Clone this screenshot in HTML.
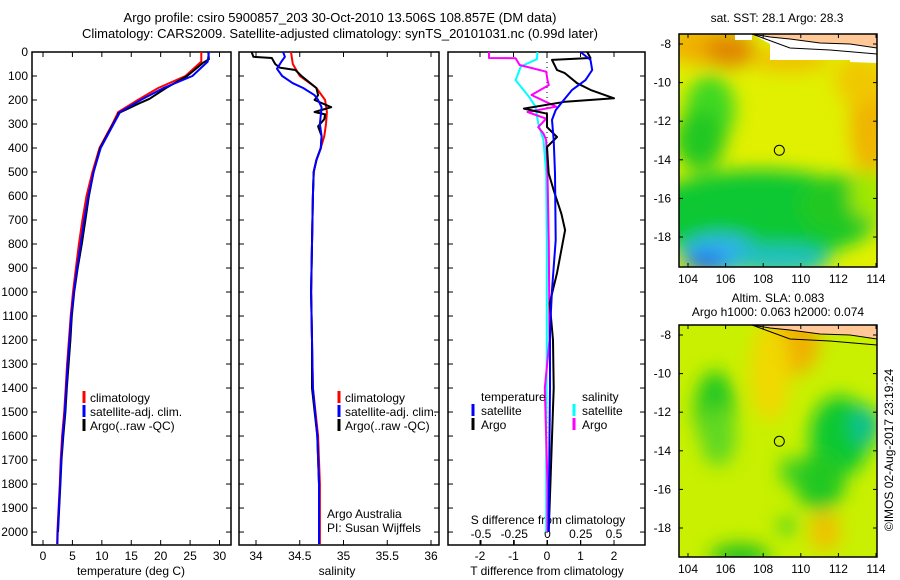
<!DOCTYPE html>
<html><head><meta charset="utf-8"><style>
html,body{margin:0;padding:0;background:#fff;}
svg{display:block;font-family:"Liberation Sans",sans-serif;}
</style></head><body>
<svg id="fig" width="900" height="580" viewBox="0 0 900 580">
<text x="340" y="22" font-size="13" text-anchor="middle">Argo profile: csiro 5900857_203 30-Oct-2010 13.506S 108.857E (DM data)</text>
<text x="340" y="38" font-size="13" text-anchor="middle">Climatology: CARS2009. Satellite-adjusted climatology: synTS_20101031.nc (0.99d later)</text>
<g id="panels"></g>
<g id="maps"></g>
<text transform="translate(893,450) rotate(-90)" font-size="12" text-anchor="middle">©IMOS 02-Aug-2017 23:19:24</text>
</svg>
<script>
// ---------- data ----------
const depthTicks = [0,100,200,300,400,500,600,700,800,900,1000,1100,1200,1300,1400,1500,1600,1700,1800,1900,2000];
const tempTicks = [0,5,10,15,20,25,30];
const salTicks = [34,34.5,35,35.5,36];
const tdiffTicks = [-2,-1,0,1,2];
const sdiffTicks = [-0.5,-0.25,0,0.25,0.5];
const sdiffTickLabels = ["-0.5","-0.25","0","0.25","0.5"];

const tClimDepth = [0,40,100,150,200,250,300,400,500,600,700,800,900,1000,1100,1200,1300,1400,1500,1600,1700,1800,1900,2000,2050];
const tClimVal   = [26.9,26.9,24.2,19.6,16.1,12.8,11.8,9.6,8.4,7.4,6.7,6.1,5.6,5.1,4.7,4.4,4.1,3.85,3.6,3.25,3.0,2.85,2.65,2.45,2.4];
const tSatDepth  = [0,40,100,150,200,250,300,400,500,600,700,800,900,1000,1100,1200,1300,1400,1500,1600,1700,1800,1900,2000,2050];
const tSatVal    = [28.2,28.0,25.4,20.5,16.6,13.1,12.0,9.8,8.6,7.7,7.0,6.4,5.8,5.25,4.8,4.5,4.2,3.95,3.7,3.35,3.1,2.9,2.7,2.5,2.45];
const tArgoDepth = [0,30,45,100,150,195,210,240,255,265,300,400,500,600,700,800,900,1000,1100,1200,1300,1400,1500,1600,1700,1800,1900,2000];
const tArgoVal   = [28.1,28.2,27.2,24.5,20.9,18.1,16.7,14.1,12.8,12.7,11.9,9.7,8.6,7.8,7.2,6.6,5.9,5.3,4.9,4.65,4.35,4.05,3.8,3.45,3.15,2.95,2.75,2.55];

const sClimDepth = [0,50,100,150,200,250,300,350,400,450,500,600,800,1000,1200,1400,1600,1800,2050];
const sClimVal   = [34.40,34.42,34.50,34.69,34.79,34.81,34.80,34.78,34.74,34.69,34.66,34.65,34.64,34.63,34.64,34.65,34.71,34.73,34.73];
const sSatDepth  = [0,20,40,70,100,130,150,180,200,230,300,350,400,450,500,600,800,1000,1200,1400,1600,1800,2050];
const sSatVal    = [34.31,34.33,34.29,34.24,34.30,34.42,34.54,34.67,34.71,34.75,34.73,34.75,34.74,34.69,34.66,34.65,34.64,34.63,34.64,34.65,34.70,34.72,34.72];
const sArgoDepth = [0,20,25,50,65,75,100,150,180,200,230,250,260,280,310,350,400,450,500,600,800,1000,1200,1400,1600,1800,2000];
const sArgoVal   = [33.95,33.97,34.18,34.22,34.27,34.45,34.52,34.69,34.71,34.67,34.86,34.67,34.79,34.78,34.71,34.75,34.74,34.69,34.66,34.65,34.64,34.63,34.64,34.64,34.70,34.72,34.72];

const dTSatDepth = [0,33,75,117,158,200,242,283,367,506,783,992,1158,1400,1700,2000];
const dTSatVal   = [1.0,1.3,1.35,1.15,0.75,0.5,0.26,0.15,0.2,0.24,0.26,0.15,0.09,0.09,0.07,0.05];
const dTArgoDepth = [0,25,33,75,88,130,158,193,207,236,257,313,354,396,506,576,674,742,921,1046,1200,1400,1800,2000];
const dTArgoVal   = [1.2,1.3,0.15,0.3,0.53,0.9,1.3,2.0,0.55,-0.69,0.0,0.0,0.3,0.0,0.05,0.2,0.43,0.54,0.3,0.08,0.18,0.2,0.1,0.05];
const dSSatDepth = [0,30,60,117,145,186,228,297,367,506,800,1200,1600,2000];
const dSSatVal   = [-0.075,-0.08,-0.2,-0.24,-0.2,-0.14,-0.09,-0.07,-0.03,-0.01,-0.005,-0.005,-0.01,-0.01];
const dSArgoDepth = [0,25,26,54,82,117,138,179,228,250,278,313,340,367,506,800,1200,1400,1800,2000];
const dSArgoVal   = [-0.44,-0.44,-0.24,-0.21,-0.01,0.0,0.01,-0.12,0.065,-0.15,-0.01,-0.07,-0.03,-0.01,0.0,0.01,0.015,-0.02,0.0,0.0];

const latTicks = [-8,-10,-12,-14,-16,-18];
const lonTicks = [104,106,108,110,112,114];
const argoLon = 108.857, argoLat = -13.506;

// ---------- helpers ----------
const NS="http://www.w3.org/2000/svg";
function mk(tag, attrs, parent){const e=document.createElementNS(NS,tag);for(const k in attrs)e.setAttribute(k,attrs[k]);if(parent)parent.appendChild(e);return e;}
const TOP=52, BOT=545, D0=0, D1=2054;
const yD = d => TOP + (d-D0)/(D1-D0)*(BOT-TOP);
const panels=document.getElementById('panels');

function linear(v0,p0,v1,p1){return v=>p0+(v-v0)/(v1-v0)*(p1-p0);}

function drawLine(g, depths, vals, xf, color, w, name){
  let d="";
  for(let i=0;i<depths.length;i++){d+=(i?"L":"M")+xf(vals[i]).toFixed(1)+","+yD(depths[i]).toFixed(1);}
  const p=mk('path',{d:d,fill:'none',stroke:color,'stroke-width':w,'stroke-linejoin':'round'},g);
  
  
}

function frame(g,x0,x1,name){
  const r=mk('rect',{x:x0,y:TOP,width:x1-x0,height:BOT-TOP,fill:'none',stroke:'#000','stroke-width':1.5},g);
  
  
  depthTicks.forEach(d=>{
    mk('line',{x1:x0,x2:x0+5,y1:yD(d),y2:yD(d),stroke:'#000'},g);
    mk('line',{x1:x1,x2:x1-5,y1:yD(d),y2:yD(d),stroke:'#000'},g);
  });
}
function xTicks(g,ticks,labels,xf,ybase,labY,top){
  ticks.forEach((t,i)=>{
    const x=xf(t);
    mk('line',{x1:x,x2:x,y1:ybase,y2:ybase-5,stroke:'#000'},g);
    if(top) mk('line',{x1:x,x2:x,y1:TOP,y2:TOP+5,stroke:'#000'},g);
    const tx=mk('text',{x:x,y:labY,'font-size':12,'text-anchor':'middle'},g);
    tx.textContent=labels[i];
    
    
  });
}
function label(g,x,y,txt,name,anchor,size){
  const t=mk('text',{x:x,y:y,'font-size':size||12,'text-anchor':anchor||'start'},g);
  t.textContent=txt;
  
  
  return t;
}
function legendMark(g,x,y,color){mk('rect',{x:x-1.5,y:y-11,width:3,height:12,fill:color},g);}

// ---------- panel 1: temperature ----------
const g1=mk('g',{},panels);
const xT=linear(0,43,30,219.5);
frame(g1,32,231,'temperature-plot-frame');
depthTicks.forEach(d=>label(g1,28,yD(d)+4,String(d),'y-tick-label','end'));
xTicks(g1,tempTicks,tempTicks.map(String),xT,BOT,560,true);
label(g1,131,575,'temperature (deg C)','x-axis-title','middle');
drawLine(g1,tClimDepth,tClimVal,xT,'#ff0000',2,'temp-climatology-line');
drawLine(g1,tArgoDepth,tArgoVal,xT,'#000000',2,'temp-argo-line');
drawLine(g1,tSatDepth,tSatVal,xT,'#0000ff',2,'temp-satellite-line');
[['climatology','#f00'],['satellite-adj. clim.','#00f'],['Argo(..raw -QC)','#000']].forEach((e,i)=>{
  legendMark(g1,84,402+i*14,e[1]);label(g1,90,402+i*14,e[0],'legend-entry');
});

// ---------- panel 2: salinity ----------
const g2=mk('g',{},panels);
const xS=linear(34,256,36,431);
frame(g2,239,439,'salinity-plot-frame');
xTicks(g2,salTicks,["34","34.5","35","35.5","36"],xS,BOT,560,true);
label(g2,337,575,'salinity','x-axis-title','middle');
drawLine(g2,sClimDepth,sClimVal,xS,'#ff0000',2,'sal-climatology-line');
drawLine(g2,sArgoDepth,sArgoVal,xS,'#000000',2,'sal-argo-line');
drawLine(g2,sSatDepth,sSatVal,xS,'#0000ff',2,'sal-satellite-line');
[['climatology','#f00'],['satellite-adj. clim.','#00f'],['Argo(..raw -QC)','#000']].forEach((e,i)=>{
  legendMark(g2,339,402+i*14,e[1]);label(g2,345,402+i*14,e[0],'legend-entry');
});
label(g2,327,518,'Argo Australia','credit-line-1');
label(g2,327,532,'PI: Susan Wijffels','credit-line-2');

// ---------- panel 3: differences ----------
const g3=mk('g',{},panels);
const xDT=linear(-2,480,2,614);
const xDS=linear(-0.5,481,0.5,614);
frame(g3,448,645,'difference-plot-frame');
tdiffTicks.forEach(t=>mk('line',{x1:xDT(t),x2:xDT(t),y1:TOP,y2:TOP+5,stroke:'#000'},g3));
xTicks(g3,tdiffTicks,tdiffTicks.map(String),xDT,BOT,560,false);
label(g3,547,575,'T difference from climatology','x-axis-title','middle');
sdiffTicks.forEach((t,i)=>{mk('line',{x1:xDS(t),x2:xDS(t),y1:BOT,y2:BOT-5,stroke:'#000'},g3);label(g3,xDS(t),538,sdiffTickLabels[i],'s-tick-label','middle');});
label(g3,548,524,'S difference from climatology','s-axis-title','middle');
mk('line',{x1:xDT(0),x2:xDT(0),y1:TOP,y2:BOT,stroke:'#000','stroke-dasharray':'1,4'},g3);
drawLine(g3,dSSatDepth,dSSatVal,xDS,'#00ffff',2,'sdiff-satellite-line');
drawLine(g3,dSArgoDepth,dSArgoVal,xDS,'#ff00ff',2,'sdiff-argo-line');
drawLine(g3,dTArgoDepth,dTArgoVal,xDT,'#000000',2,'tdiff-argo-line');
drawLine(g3,dTSatDepth,dTSatVal,xDT,'#0000ff',2,'tdiff-satellite-line');
label(g3,481,401,'temperature','legend-title-temperature');
label(g3,582,401,'salinity','legend-title-salinity');
legendMark(g3,473,415,'#00f');label(g3,481,415,'satellite','legend-entry');
legendMark(g3,473,429,'#000');label(g3,481,429,'Argo','legend-entry');
legendMark(g3,574,415,'#0ff');label(g3,582,415,'satellite','legend-entry');
legendMark(g3,574,429,'#f0f');label(g3,582,429,'Argo','legend-entry');

// ---------- maps ----------
const maps=document.getElementById('maps');
const defs=mk('defs',{},maps);
const flt=mk('filter',{id:'blur',x:'-50%',y:'-50%',width:'200%',height:'200%'},defs);
mk('feGaussianBlur',{stdDeviation:9},flt);
function map(y0,y1,base,blobs,name,titles,gap){
  const X0=679,X1=877;
  const g=mk('g',{},maps);
  const cid='clip'+y0;
  const cp=mk('clipPath',{id:cid},defs);mk('rect',{x:X0,y:y0,width:X1-X0,height:y1-y0},cp);
  const inner=mk('g',{'clip-path':'url(#'+cid+')'},g);
  mk('rect',{x:X0,y:y0,width:X1-X0,height:y1-y0,fill:base},inner);
  const bg=mk('g',{filter:'url(#blur)'},inner);
  blobs.forEach(b=>mk('ellipse',{cx:b[0],cy:b[1]-34+y0,rx:b[2],ry:b[3],fill:b[4]},bg));
  const lonX=linear(104,688,114,876);
  const latY=linear(-8,y0+10,-18,y0+203);
  if(gap){
    mk('path',{d:`M752,${y0} L877,${y0} L877,${y0+29} L850,${y0+28} L850,${y0+26} L770,${y0+26} L770,${y0+10} Z`,fill:'#fff'},inner);
    mk('rect',{x:735,y:y0,width:17,height:6,fill:'#fff'},inner);
  }
  // land + coast
  mk('path',{d:`M752,${y0} L877,${y0} L877,${y0+14} L850,${y0+10} L820,${y0+9} L790,${y0+5} L770,${y0+3} Z`,fill:'#ffc896',stroke:'#000','stroke-width':1},inner);
  mk('path',{d:`M752,${y0} L790,${y0+14} L830,${y0+16} L877,${y0+20}`,fill:'none',stroke:'#000','stroke-width':1},inner);
  mk('rect',{x:X0,y:y0,width:X1-X0,height:y1-y0,fill:'none',stroke:'#000','stroke-width':1.5},g);
  latTicks.forEach(l=>{const y=latY(l);mk('line',{x1:X0,x2:X0+4,y1:y,y2:y,stroke:'#000'},g);mk('line',{x1:X1,x2:X1-4,y1:y,y2:y,stroke:'#000'},g);label(g,671,y+4,String(l),'lat-tick-label','end');});
  lonTicks.forEach(l=>{const x=lonX(l);mk('line',{x1:x,x2:x,y1:y1,y2:y1-4,stroke:'#000'},g);mk('line',{x1:x,x2:x,y1:y0,y2:y0+4,stroke:'#000'},g);label(g,x,y1+16,String(l),'lon-tick-label','middle');});
  const c=mk('circle',{cx:lonX(argoLon),cy:latY(argoLat),r:5,fill:'none',stroke:'#000','stroke-width':1},g);
  
  titles.forEach(t=>label(g,t[0],t[1],t[2],'map-title','middle'));
}
map(34,267,'#e0f000',[
  [700,45,35,20,'#f0b000'],[730,50,25,18,'#e08800'],[790,60,40,12,'#f0c000'],
  [870,120,20,60,'#f0b400'],[860,80,25,25,'#f0c800'],
  [710,110,25,35,'#40d820'],[700,140,25,30,'#20c820'],
  [760,215,120,45,'#10c830'],[840,205,40,30,'#20c820'],[870,195,20,25,'#a0e800'],
  [720,255,40,20,'#30b0f0'],[780,260,50,15,'#20c0c0'],[705,262,20,8,'#2060e0']
],'sst-map',[[777,22,'sat. SST: 28.1 Argo: 28.3']],true);
map(325,557,'#c8f000',[
  [790,50,30,35,'#f0b000'],[770,80,20,50,'#f0d800'],
  [715,120,20,40,'#20c820'],[718,145,18,30,'#60d820'],
  [840,145,30,40,'#10c830'],[865,135,15,20,'#10c090'],[820,190,25,30,'#20c820'],[790,180,10,15,'#40d020'],
  [825,240,15,20,'#f0c000'],[740,265,30,12,'#20c020'],[787,235,10,8,'#40d020']
],'sla-map',[[778,302,'Altim. SLA: 0.083'],[778,316,'Argo h1000: 0.063 h2000: 0.074']],false);
</script>
</body></html>
